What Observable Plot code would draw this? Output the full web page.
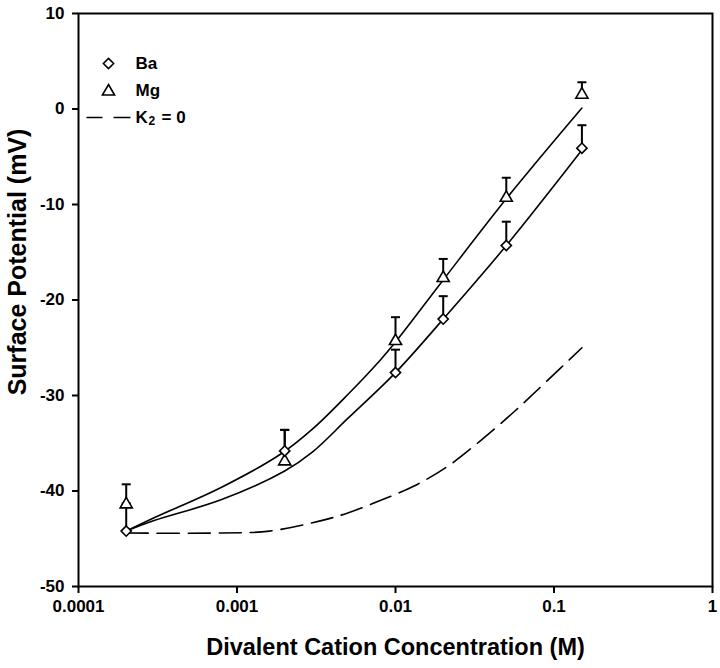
<!DOCTYPE html>
<html>
<head>
<meta charset="utf-8">
<script src="https://cdn.jsdelivr.net/npm/d3@7"></script>
<script src="https://cdn.jsdelivr.net/npm/@observablehq/plot@0.6"></script>
<style>
  html, body { margin: 0; padding: 0; background: white; }
</style>
</head>
<body>
<div id="chart"></div>
<script>
// Measured points (concentration in M, surface potential in mV)
const conc = [0.0002, 0.002, 0.01, 0.02, 0.05, 0.15];
const baMean = [-44.2, -35.8, -27.6, -22.0, -14.3, -4.1];
const baErr  = [2.9, 2.2, 2.4, 2.4, 2.5, 2.4];
const mgMean = [-41.4, -36.9, -24.3, -17.7, -9.3, 1.5];
const mgErr  = [2.1, 3.3, 2.5, 2.0, 2.1, 1.3];

// Fitted curves
const mgFitX = [0.0002, 0.0003, 0.0008, 0.0019, 0.003, 0.005, 0.008, 0.01, 0.02, 0.05, 0.15];
const mgFitY = [-44.2, -42.8, -39.6, -36.1, -33.5, -29.9, -26.3, -24.4, -17.9, -9.4, 0.1];
const baFitX = [0.0002, 0.0003, 0.0008, 0.002, 0.003, 0.005, 0.01, 0.02, 0.05, 0.15];
const baFitY = [-44.2, -43.1, -40.9, -37.9, -35.9, -32.4, -27.6, -22.0, -14.3, -4.3];
const k2FitX = [0.0002, 0.0008, 0.0016, 0.0034, 0.005, 0.008, 0.013, 0.021, 0.034, 0.056, 0.09, 0.15];
const k2FitY = [-44.4, -44.4, -44.2, -43.1, -42.3, -41.0, -39.5, -37.5, -34.8, -31.7, -28.5, -25.0];

// Axes
const xTicks = [0.0001, 0.001, 0.01, 0.1, 1];
const xTickLabels = ["0.0001", "0.001", "0.01", "0.1", "1"];
const yTicks = [-50, -40, -30, -20, -10, 0, 10];
const xTitle = "Divalent Cation Concentration (M)";
const yTitle = "Surface Potential (mV)";
const legendLabels = ["Ba", "Mg"];
const k2LabelParts = ["K", "2", "= 0"];

const ba = conc.map((c, i) => ({c, m: baMean[i], top: baMean[i] + baErr[i]}));
const mg = conc.map((c, i) => ({c, m: mgMean[i], top: mgMean[i] + mgErr[i]}));
const mgFit = mgFitX.map((x, i) => ({x, y: mgFitY[i]}));
const baFit = baFitX.map((x, i) => ({x, y: baFitY[i]}));
const k2Fit = k2FitX.map((x, i) => ({x, y: k2FitY[i]}));

const capSymbol = {draw(ctx) { ctx.moveTo(-4.5, 0); ctx.lineTo(4.5, 0); }};
const dashSymbol = {draw(ctx) { ctx.moveTo(-22, 0); ctx.lineTo(-6, 0); ctx.moveTo(5, 0); ctx.lineTo(22, 0); }};

const font = '"Liberation Sans", Arial, Helvetica, sans-serif';
const legendText = (t, dx, dy, fs) => Plot.text([t], {frameAnchor: "top-left", dx, dy, text: d => d, textAnchor: "start", lineAnchor: "middle", fontSize: fs, fontWeight: "bold"});

const chart = Plot.plot({
  width: 720,
  height: 668,
  marginLeft: 78,
  marginRight: 8,
  marginTop: 13,
  marginBottom: 82,
  style: {fontFamily: font, fontWeight: "bold", fontSize: "17px", color: "black", background: "white"},
  x: {type: "log", domain: [0.0001, 1]},
  y: {domain: [-50, 10]},
  marks: [
    Plot.frame({stroke: "black", strokeWidth: 2}),
    Plot.axisX({ticks: xTicks, tickFormat: d => xTickLabels[xTicks.indexOf(d)], tickSize: 7, tickPadding: 6, strokeWidth: 2, label: null, fontSize: 17, fontWeight: "bold"}),
    Plot.axisY({ticks: yTicks, tickFormat: d => String(d), tickSize: 6, tickPadding: 8, strokeWidth: 2, label: null, fontSize: 17, fontWeight: "bold"}),
    Plot.line(k2Fit, {x: "x", y: "y", curve: "catmull-rom", stroke: "black", strokeWidth: 1.6, strokeDasharray: "22,9"}),
    Plot.line(mgFit, {x: "x", y: "y", curve: "catmull-rom", stroke: "black", strokeWidth: 1.6}),
    Plot.line(baFit, {x: "x", y: "y", curve: "catmull-rom", stroke: "black", strokeWidth: 1.6}),
    Plot.ruleX(mg, {x: "c", y1: "m", y2: "top", stroke: "black", strokeWidth: 2}),
    Plot.dot(mg, {x: "c", y: "top", symbol: capSymbol, r: 1, stroke: "black", strokeWidth: 2, fill: "none"}),
    Plot.ruleX(ba, {x: "c", y1: "m", y2: "top", stroke: "black", strokeWidth: 2}),
    Plot.dot(ba, {x: "c", y: "top", symbol: capSymbol, r: 1, stroke: "black", strokeWidth: 2, fill: "none"}),
    Plot.dot(mg, {x: "c", y: "m", symbol: "triangle2", r: 5.8, fill: "white", stroke: "black", strokeWidth: 1.6}),
    Plot.dot(ba, {x: "c", y: "m", symbol: "diamond2", r: 4.6, fill: "white", stroke: "black", strokeWidth: 1.6}),
    // legend
    Plot.dot([0], {frameAnchor: "top-left", dx: 30, dy: 50, symbol: "diamond2", r: 4.6, fill: "white", stroke: "black", strokeWidth: 1.6}),
    Plot.dot([0], {frameAnchor: "top-left", dx: 30, dy: 78, symbol: "triangle2", r: 5.8, fill: "white", stroke: "black", strokeWidth: 1.6}),
    Plot.dot([0], {frameAnchor: "top-left", dx: 30, dy: 104, symbol: dashSymbol, r: 1, fill: "none", stroke: "black", strokeWidth: 1.6}),
    legendText(legendLabels[0], 57, 50, 17),
    legendText(legendLabels[1], 57, 77, 17),
    legendText(k2LabelParts[0], 57, 104, 17),
    legendText(k2LabelParts[1], 70, 108, 12),
    legendText(k2LabelParts[2], 83, 104, 17),
    // axis titles
    Plot.text([xTitle], {frameAnchor: "bottom", dy: 61, text: d => d, textAnchor: "middle", lineAnchor: "middle", fontSize: 23.5, fontWeight: "bold"}),
    Plot.text([yTitle], {frameAnchor: "left", dx: -61, dy: -38, rotate: -90, text: d => d, textAnchor: "middle", lineAnchor: "middle", fontSize: 25, fontWeight: "bold"})
  ]
});
document.getElementById("chart").appendChild(chart);
</script>
</body>
</html>
